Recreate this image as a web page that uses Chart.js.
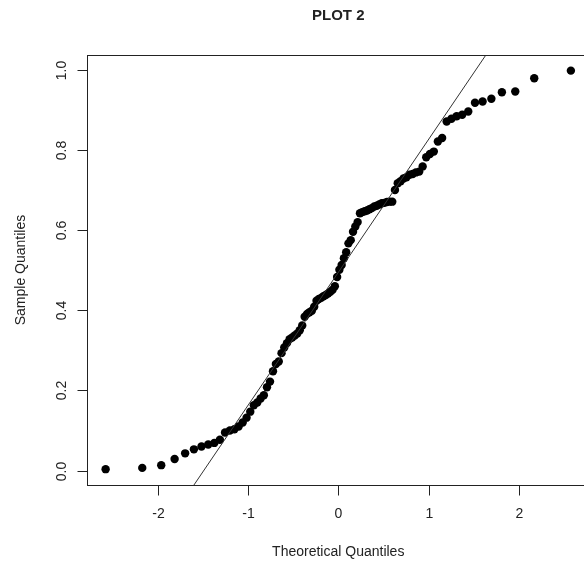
<!DOCTYPE html>
<html>
<head>
<meta charset="utf-8">
<title>PLOT 2</title>
<script src="https://cdn.jsdelivr.net/npm/chart.js@4.4.0/dist/chart.umd.min.js"></script>
<style>
  html, body { margin: 0; padding: 0; background: #fff; overflow: hidden; }
  #qqChart { display: block; }
</style>
</head>
<body>
<canvas id="qqChart" width="600" height="563"></canvas>
<script>
'use strict';

//--------> Data <--------
// theoretical normal quantiles for n = 100
let theoretical = [
  -2.5758, -2.1701, -1.9600, -1.8119, -1.6954, -1.5982, -1.5141, -1.4395, -1.3722, -1.3106,
  -1.2536, -1.2004, -1.1503, -1.1031, -1.0581, -1.0152, -0.9741, -0.9346, -0.8965, -0.8596,
  -0.8239, -0.7892, -0.7554, -0.7225, -0.6903, -0.6588, -0.6280, -0.5978, -0.5681, -0.5388,
  -0.5101, -0.4817, -0.4538, -0.4261, -0.3989, -0.3719, -0.3451, -0.3186, -0.2924, -0.2663,
  -0.2404, -0.2147, -0.1891, -0.1637, -0.1383, -0.1130, -0.0878, -0.0627, -0.0376, -0.0125,
  0.0125, 0.0376, 0.0627, 0.0878, 0.1130, 0.1383, 0.1637, 0.1891, 0.2147, 0.2404,
  0.2663, 0.2924, 0.3186, 0.3451, 0.3719, 0.3989, 0.4261, 0.4538, 0.4817, 0.5101,
  0.5388, 0.5681, 0.5978, 0.6280, 0.6588, 0.6903, 0.7225, 0.7554, 0.7892, 0.8239,
  0.8596, 0.8965, 0.9346, 0.9741, 1.0152, 1.0581, 1.1031, 1.1503, 1.2004, 1.2536,
  1.3106, 1.3722, 1.4395, 1.5141, 1.5982, 1.6954, 1.8119, 1.9600, 2.1701, 2.5758
];

// sorted sample values
let sample = [
  0.0035, 0.0067, 0.0135, 0.029, 0.043, 0.053, 0.060, 0.065, 0.069, 0.077,
  0.095, 0.100, 0.103, 0.110, 0.120, 0.132, 0.147, 0.163, 0.170, 0.180,
  0.188, 0.208, 0.222, 0.248, 0.266, 0.272, 0.293, 0.307, 0.318, 0.328,
  0.332, 0.337, 0.342, 0.350, 0.362, 0.384, 0.391, 0.395, 0.399, 0.409,
  0.424, 0.428, 0.431, 0.435, 0.438, 0.442, 0.446, 0.451, 0.460, 0.483,
  0.501, 0.513, 0.530, 0.545, 0.567, 0.575, 0.596, 0.609, 0.620, 0.642,
  0.645, 0.647, 0.649, 0.652, 0.655, 0.659, 0.661, 0.664, 0.667, 0.668,
  0.670, 0.671, 0.671, 0.700, 0.717, 0.722, 0.729, 0.732, 0.738, 0.740,
  0.744, 0.746, 0.759, 0.782, 0.790, 0.796, 0.821, 0.830, 0.871, 0.878,
  0.884, 0.888, 0.896, 0.918, 0.921, 0.928, 0.944, 0.946, 0.979, 0.998
];

let xTicks = [-2, -1, 0, 1, 2];
let yTicks = [0.0, 0.2, 0.4, 0.6, 0.8, 1.0];
let xRange = [-2.782, 2.782];
let yRange = [-0.036, 1.037];

let titleText = 'PLOT 2';
let xTitle = 'Theoretical Quantiles';
let yTitle = 'Sample Quantiles';

//--------> qqline through the quartiles (like R) <--------
function quantile7 (arr, p) {
  let h = (arr.length - 1) * p;
  let lo = Math.floor(h);
  let hi = Math.min(lo + 1, arr.length - 1);
  return arr[lo] + (h - lo) * (arr[hi] - arr[lo]);
}
let q1 = quantile7(sample, 0.25);
let q3 = quantile7(sample, 0.75);
let zq = 0.6745;
let slope = (q3 - q1) / (2 * zq);
let intercept = q1 + slope * zq;
let lineX = [-3, 3];
let linePoints = lineX.map(x => ({ x: x, y: intercept + slope * x }));

let points = [];
for (let i = 0; i < sample.length; i++) {
  points.push({ x: theoretical[i], y: sample[i] });
}

//--------> Axes, box and text drawn R style <--------
const fontFamily = '"Liberation Sans", Arial, Helvetica, sans-serif';

const rAxes = {
  id: 'rAxes',
  afterDraw (chart) {
    let ctx = chart.ctx;
    let area = chart.chartArea;
    let xs = chart.scales.x;
    let ys = chart.scales.y;
    let tickLen = 10;

    ctx.save();
    ctx.strokeStyle = '#222';
    ctx.fillStyle = '#222';
    ctx.lineWidth = 1;

    // box
    ctx.strokeRect(Math.round(area.left) + 0.5, Math.round(area.top) + 0.5,
      Math.round(area.right - area.left), Math.round(area.bottom - area.top));

    // x ticks
    ctx.font = '14px ' + fontFamily;
    ctx.textAlign = 'center';
    ctx.textBaseline = 'middle';
    let bottom = Math.round(area.bottom) + 0.5;
    for (let i = 0; i < xTicks.length; i++) {
      let px = Math.round(xs.getPixelForValue(xTicks[i])) + 0.5;
      ctx.beginPath();
      ctx.moveTo(px, bottom);
      ctx.lineTo(px, bottom + tickLen);
      ctx.stroke();
      ctx.fillText(String(xTicks[i]), px, bottom + 29);
    }

    // y ticks, labels parallel to the axis
    let left = Math.round(area.left) + 0.5;
    for (let i = 0; i < yTicks.length; i++) {
      let py = Math.round(ys.getPixelForValue(yTicks[i])) + 0.5;
      ctx.beginPath();
      ctx.moveTo(left, py);
      ctx.lineTo(left - tickLen, py);
      ctx.stroke();
      ctx.save();
      ctx.translate(left - 25, py);
      ctx.rotate(-Math.PI / 2);
      ctx.fillText(yTicks[i].toFixed(1), 0, 0);
      ctx.restore();
    }

    // titles
    let midX = (area.left + area.right) / 2;
    let midY = (area.top + area.bottom) / 2;
    ctx.font = 'bold 15px ' + fontFamily;
    ctx.fillText(titleText, midX, 16);

    ctx.font = '14px ' + fontFamily;
    ctx.fillText(xTitle, midX, 552);

    ctx.save();
    ctx.translate(21, midY);
    ctx.rotate(-Math.PI / 2);
    ctx.fillText(yTitle, 0, 0);
    ctx.restore();

    ctx.restore();
  }
};

//--------> Chart <--------
let ctx = document.getElementById('qqChart').getContext('2d');
let qqChart = new Chart(ctx, {
  type: 'scatter',
  data: {
    datasets: [{
      type: 'line',
      label: 'qqline',
      data: linePoints,
      borderColor: '#333',
      borderWidth: 1,
      pointRadius: 0,
      fill: false,
      order: 0
    }, {
      label: 'Sample',
      data: points,
      backgroundColor: '#000',
      borderWidth: 0,
      pointRadius: 4.2,
      pointHoverRadius: 4.2,
      order: 1
    }]
  },
  options: {
    responsive: false,
    animation: false,
    events: [],
    layout: { padding: { left: 87, top: 55, right: 10.5, bottom: 78 } },
    plugins: {
      legend: { display: false },
      tooltip: { enabled: false },
      title: { display: false }
    },
    scales: {
      x: { type: 'linear', display: false, min: xRange[0], max: xRange[1] },
      y: { type: 'linear', display: false, min: yRange[0], max: yRange[1] }
    }
  },
  plugins: [rAxes]
});
</script>
</body>
</html>
